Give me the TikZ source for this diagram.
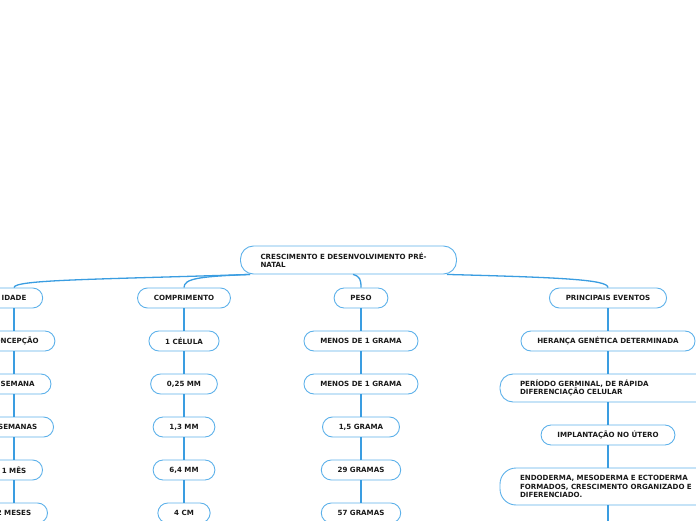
\documentclass[tikz,border=0pt]{standalone}
\usepackage{fontspec}
\setmainfont{DejaVu Sans}
\usetikzlibrary{positioning}
\definecolor{cLine}{HTML}{3A9DE1}
\definecolor{cEdge}{HTML}{5DB1EA}
\definecolor{cInk}{HTML}{1A1A1A}
\tikzset{
  pill/.style={draw=cEdge, line width=0.9pt, rounded corners=10pt, fill=white,
    text=cInk, font=\bfseries\fontsize{7.1}{8.5}\selectfont,
    inner xsep=16.3pt, inner ysep=3pt, minimum height=20pt},
  wide/.style={pill, text width=176pt, align=left, inner xsep=20pt,
    rounded corners=13pt, minimum height=28pt},
  tie/.style={draw=cLine, line width=1.2pt},
  limb/.style={draw=cLine, line width=1.3pt},
}

\begin{document}
\begin{tikzpicture}[x=1pt, y=1pt, node distance=22.1pt]
    \useasboundingbox (0,0) rectangle (696,520);
    % --- central topic ---
    \node[wide] (root) at (348.5,260) {CRESCIMENTO E DESENVOLVIMENTO PRÉ-\\NATAL};
    % --- main branches, explicit coordinates ---
    \node[pill] (idade)   at (14,222)  {IDADE};
    \node[pill] (compr)   at (184,222) {COMPRIMENTO};
    \node[pill] (peso)    at (361,222) {PESO};
    \node[pill] (eventos) at (608,222) {PRINCIPAIS EVENTOS};
    % --- idade ---
    \node[pill, below=of idade] (i1) {CONCEPÇÃO};
    \node[pill, below=of i1]    (i2) {1 SEMANA};
    \node[pill, below=of i2]    (i3) {2 SEMANAS};
    \node[pill, below=of i3]    (i4) {1 MÊS};
    \node[pill, below=of i4]    (i5) {2 MESES};
    % --- comprimento ---
    \node[pill, below=of compr] (c1) {1 CÉLULA};
    \node[pill, below=of c1]    (c2) {0,25 MM};
    \node[pill, below=of c2]    (c3) {1,3 MM};
    \node[pill, below=of c3]    (c4) {6,4 MM};
    \node[pill, below=of c4]    (c5) {4 CM};
    % --- peso ---
    \node[pill, below=of peso] (p1) {MENOS DE 1 GRAMA};
    \node[pill, below=of p1]   (p2) {MENOS DE 1 GRAMA};
    \node[pill, below=of p2]   (p3) {1,5 GRAMA};
    \node[pill, below=of p3]   (p4) {29 GRAMAS};
    \node[pill, below=of p4]   (p5) {57 GRAMAS};
    % --- principais eventos ---
    \node[pill, below=of eventos] (e1) {HERANÇA GENÉTICA DETERMINADA};
    \node[wide, below=of e1] (e2) {PERÍODO GERMINAL, DE RÁPIDA\\DIFERENCIAÇÃO CELULAR};
    \node[pill, below=of e2] (e3) {IMPLANTAÇÃO NO ÚTERO};
    \node[wide, below=of e3, minimum height=37pt, rounded corners=16pt] (e4)
      {ENDODERMA, MESODERMA E ECTODERMA\\FORMADOS, CRESCIMENTO ORGANIZADO E\\DIFERENCIADO.};
    \coordinate (evnext) at (608,-6);
    % --- branches out of the central topic ---
    \draw[limb] ([xshift=10pt]root.south west) .. controls +(-151,-5) and +(0,8) .. (idade.north);
    \draw[limb] ([xshift=10pt]root.south west) .. controls +(-51,-2) and +(0,9) .. (compr.north);
    \draw[limb] ([xshift=4.5pt]root.south) .. controls +(7,-2) and +(0,8) .. (peso.north);
    \draw[limb] ([xshift=-10pt]root.south east) .. controls +(113,-3) and +(0,8) .. (eventos.north);
    % --- columns ---
    \draw[tie] (idade) -- (i1) (i1) -- (i2) (i2) -- (i3) (i3) -- (i4) (i4) -- (i5);
    \draw[tie] (compr) -- (c1) (c1) -- (c2) (c2) -- (c3) (c3) -- (c4) (c4) -- (c5);
    \draw[tie] (peso) -- (p1) (p1) -- (p2) (p2) -- (p3) (p3) -- (p4) (p4) -- (p5);
    \draw[tie] (eventos) -- (e1) (e1) -- (e2) (e2) -- (e3) (e3) -- (e4);
    \draw[tie] (e4.south) -- (evnext);
  \end{tikzpicture}
\end{document}
